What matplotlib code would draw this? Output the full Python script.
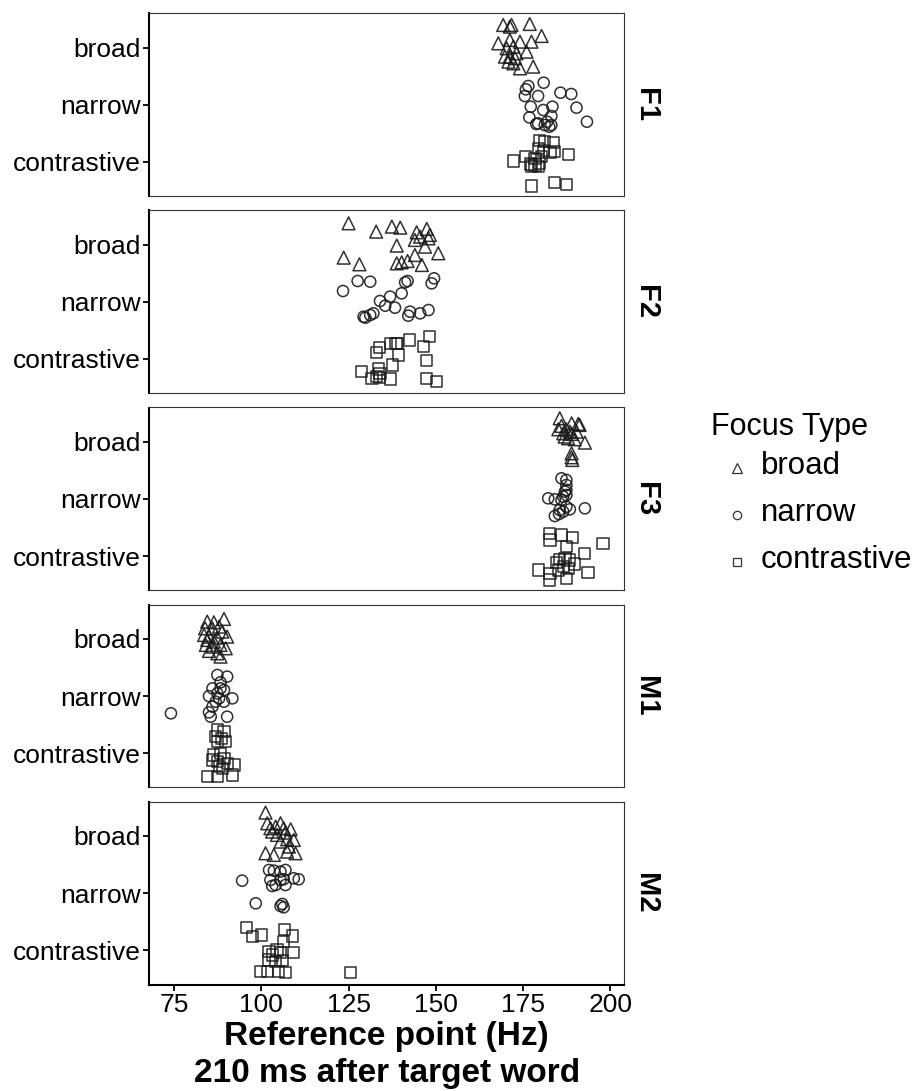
import matplotlib
matplotlib.use("Agg")
import matplotlib.pyplot as plt
from matplotlib.lines import Line2D

plt.rcParams['font.family'] = ['Liberation Sans', 'DejaVu Sans']

# focus categories, top to bottom in every panel
focus_types = ["broad", "narrow", "contrastive"]
focus_pos = {"broad": 3, "narrow": 2, "contrastive": 1}
speakers = ["F1", "F2", "F3", "M1", "M2"]

# reference point (Hz) per speaker and focus type, with the vertical jitter of each point
hz_F1 = {
    "broad": [169.3, 171.7, 171.2, 176.9, 167.9, 171.2, 174.1, 177.4, 180.3, 170.3,
              172.2, 176.0, 169.8, 171.2, 172.7, 170.8, 172.2, 174.1, 177.9, 173.1],
    "narrow": [176.5, 180.9, 175.8, 175.5, 179.3, 185.7, 188.8, 177.2, 180.8, 183.4,
               190.3, 176.8, 183.1, 179.3, 181.2, 182.5, 183.1, 193.3, 178.8, 181.9],
    "contrastive": [179.8, 181.2, 183.6, 179.3, 180.8, 184.1, 182.7, 188.1, 172.2, 175.8,
                    178.4, 180.3, 177.0, 178.4, 179.8, 177.4, 179.3, 177.4, 184.1, 187.4],
}
jit_F1 = {
    "broad": [0.395, 0.395, 0.366, 0.413, 0.074, 0.133, 0.103, 0.103, 0.203, -0.013,
              0.016, -0.072, -0.159, -0.159, -0.188, -0.247, -0.276, -0.364, -0.334, -0.101],
    "narrow": [0.327, 0.385, 0.269, 0.152, 0.152, 0.210, 0.187, -0.035, -0.093, -0.035,
               -0.052, -0.222, -0.198, -0.327, -0.356, -0.385, -0.356, -0.298, -0.338, -0.298],
    "contrastive": [0.381, 0.352, 0.335, 0.235, 0.206, 0.177, 0.159, 0.136, 0.014, 0.089,
                    0.060, 0.089, -0.039, -0.056, -0.027, -0.074, -0.086, -0.424, -0.366, -0.395],
}

hz_F2 = {
    "broad": [125.0, 132.9, 137.4, 139.8, 144.5, 147.4, 147.9, 144.0, 138.8, 146.9,
              150.7, 123.6, 128.1, 140.2, 141.9, 144.0, 146.0, 138.8, 145.5, 148.3],
    "narrow": [123.4, 127.6, 131.2, 141.2, 141.9, 148.8, 149.5, 140.2, 136.9, 134.0,
               135.5, 138.3, 129.8, 131.2, 132.1, 142.1, 142.6, 145.5, 147.9, 129.3],
    "contrastive": [133.9, 133.1, 137.1, 138.6, 139.0, 142.4, 148.3, 146.4, 139.3, 137.7,
                    147.4, 128.8, 133.6, 131.7, 132.9, 133.9, 136.9, 147.2, 150.2, 134.0],
}
jit_F2 = {
    "broad": [0.374, 0.228, 0.316, 0.298, 0.216, 0.275, 0.111, 0.082, -0.017, -0.035,
              -0.151, -0.227, -0.344, -0.309, -0.286, -0.181, -0.356, -0.327, 0.140, 0.170],
    "narrow": [0.189, 0.364, 0.352, 0.341, 0.364, 0.323, 0.411, 0.148, 0.090, 0.014,
               -0.068, -0.103, -0.278, -0.232, -0.202, -0.243, -0.173, -0.202, -0.144, -0.261],
    "contrastive": [0.196, 0.115, 0.272, 0.272, 0.272, 0.331, 0.389, 0.214, 0.068, -0.107,
                    -0.020, -0.224, -0.177, -0.341, -0.311, -0.329, -0.352, -0.341, -0.399, -0.253],
}

hz_F3 = {
    "broad": [185.5, 188.9, 190.8, 185.1, 187.4, 191.2, 186.9, 188.9, 189.8, 192.7,
              187.9, 188.9, 188.9, 189.1, 186.0, 188.4, 186.5, 190.3],
    "narrow": [186.0, 187.4, 187.4, 187.0, 187.4, 182.2, 184.1, 186.0, 187.4, 185.5,
               188.4, 192.7, 184.1, 185.3, 186.5, 187.4, 186.5],
    "contrastive": [182.5, 186.0, 189.1, 182.7, 197.9, 187.4, 192.7, 185.5, 187.0, 188.4,
                    189.8, 184.6, 179.3, 182.7, 182.5, 187.4, 193.6, 186.5, 187.9, 185.1],
}
jit_F3 = {
    "broad": [0.411, 0.323, 0.312, 0.218, 0.218, 0.294, 0.090, 0.137, 0.043, -0.015,
              0.061, -0.202, -0.272, -0.319, 0.277, 0.177, 0.148, 0.177],
    "narrow": [0.360, 0.331, 0.243, 0.127, 0.068, 0.010, -0.008, -0.019, -0.136, -0.194,
               -0.183, -0.165, -0.300, -0.265, -0.224, 0.156, 0.039],
    "contrastive": [0.397, 0.368, 0.327, 0.280, 0.222, 0.163, 0.047, -0.058, -0.041, -0.070,
                    -0.140, -0.117, -0.245, -0.304, -0.420, -0.391, -0.292, -0.187, -0.216, -0.245],
}

hz_M1 = {
    "broad": [84.5, 86.4, 89.3, 83.9, 87.9, 88.8, 86.0, 83.6, 85.0, 87.4,
              90.2, 84.1, 86.0, 88.3, 89.8, 85.0, 87.4, 84.5, 86.4, 88.3],
    "narrow": [87.4, 90.2, 88.3, 86.0, 89.3, 85.0, 87.9, 91.7, 86.9, 89.3,
               86.0, 85.0, 90.2, 74.1, 85.5, 87.4, 88.3],
    "contrastive": [87.4, 89.3, 86.9, 88.6, 89.8, 87.4, 86.4, 88.3, 89.3, 87.4,
                    87.9, 90.2, 92.2, 84.5, 87.4, 91.7, 86.0, 88.8],
}
jit_M1 = {
    "broad": [0.302, 0.290, 0.349, 0.185, 0.214, 0.127, 0.185, 0.068, 0.039, 0.022,
              0.039, -0.107, -0.136, -0.107, -0.165, -0.212, -0.253, -0.019, -0.048, -0.311],
    "narrow": [0.368, 0.339, 0.240, 0.134, 0.105, -0.002, -0.041, -0.041, -0.099, -0.099,
               -0.187, -0.286, -0.362, -0.303, -0.362, 0.047, 0.134],
    "contrastive": [0.405, 0.376, 0.288, 0.259, 0.200, 0.200, -0.033, -0.004, -0.091, -0.150,
                    -0.237, -0.179, -0.208, -0.413, -0.413, -0.383, -0.121, -0.267],
}

hz_M2 = {
    "broad": [101.2, 101.7, 105.5, 108.4, 103.1, 104.5, 106.9, 105.5, 107.4, 109.3,
              107.9, 101.2, 103.6, 107.4, 109.8, 102.6, 106.4, 104.1],
    "narrow": [102.2, 103.6, 105.5, 106.9, 94.5, 102.6, 104.1, 106.4, 106.9, 109.3,
               110.7, 103.1, 105.5, 98.4, 105.5, 106.4, 106.0],
    "contrastive": [95.7, 97.4, 100.1, 106.7, 109.0, 106.4, 102.2, 104.5, 105.5, 109.3,
                    102.2, 104.1, 106.0, 99.8, 101.7, 105.0, 106.9, 125.5, 103.1],
}
jit_M2 = {
    "broad": [0.409, 0.222, 0.222, 0.117, 0.076, 0.018, 0.059, -0.099, -0.058, -0.070,
              -0.186, -0.303, -0.332, -0.274, -0.303, 0.135, 0.135, 0.164],
    "narrow": [0.405, 0.393, 0.376, 0.405, 0.218, 0.230, 0.142, 0.242, 0.142, 0.259,
               0.242, 0.125, 0.230, -0.179, -0.225, -0.249, -0.190],
    "contrastive": [0.401, 0.237, 0.267, 0.366, 0.249, 0.150, -0.025, 0.004, -0.043, -0.043,
                    -0.171, -0.200, -0.183, -0.376, -0.376, -0.376, -0.393, -0.393, -0.084],
}

hz_all = {"F1": hz_F1, "F2": hz_F2, "F3": hz_F3, "M1": hz_M1, "M2": hz_M2}
jit_all = {"F1": jit_F1, "F2": jit_F2, "F3": jit_F3, "M1": jit_M1, "M2": jit_M2}

x_ticks = [75, 100, 125, 150, 175, 200]

markers = {"broad": "^", "narrow": "o", "contrastive": "s"}
msize = {"broad": 9.2, "narrow": 8.0, "contrastive": 8.0}
leg_size = {"broad": 7.0, "narrow": 6.0, "contrastive": 5.5}
ink = "#1a1a1a"

W, H = 922, 1091
fig = plt.figure(figsize=(W / 100, H / 100), dpi=100)

left, right = 149.3, 624.3
top0, ph, gap = 13.3, 182.8, 14.3

axes = []
for i, spk in enumerate(speakers):
    ytop = top0 + i * (ph + gap)
    ax = fig.add_axes([left / W, 1 - (ytop + ph) / H, (right - left) / W, ph / H])
    axes.append(ax)
    for ft in focus_types:
        xs = hz_all[spk][ft]
        ys = [focus_pos[ft] + j for j in jit_all[spk][ft]]
        ax.scatter(xs, ys, marker=markers[ft], s=msize[ft] ** 2,
                   facecolors="none", edgecolors=ink, linewidths=1.1, alpha=0.9)
    ax.set_xlim(67.9, 204.0)
    ax.set_ylim(0.4, 3.6)
    ax.set_yticks([focus_pos[f] for f in focus_types])
    ax.set_yticklabels(focus_types, fontsize=19)
    ax.set_xticks(x_ticks)
    for side in ["top", "right", "bottom"]:
        ax.spines[side].set_linewidth(0.8)
        ax.spines[side].set_color("#333333")
    ax.spines["left"].set_linewidth(1.5)
    ax.spines["left"].set_color("black")
    ax.tick_params(axis="y", length=4, width=1.3, pad=2, colors="black")
    if i < len(speakers) - 1:
        ax.tick_params(axis="x", bottom=False, labelbottom=False)
    else:
        ax.spines["bottom"].set_linewidth(1.5)
        ax.spines["bottom"].set_color("black")
        ax.tick_params(axis="x", length=4, width=1.3, pad=2, labelsize=19, colors="black")
    # facet strip label on the right
    ax.text(1.0 + 22 / (right - left), 0.5, spk, transform=ax.transAxes,
            rotation=-90, ha="center", va="center", fontsize=21, fontweight="bold")

axes[-1].set_xlabel("Reference point (Hz)\n210 ms after target word",
                    fontsize=24, fontweight="bold", linespacing=1.25, labelpad=3)

# legend drawn by hand to the right of the panels
fig.text(711 / W, 1 - 427 / H, "Focus Type", fontsize=22, ha="left", va="center")
leg_rows = [468, 515, 562]
for ft, ry in zip(focus_types, leg_rows):
    fig.add_artist(Line2D([737 / W], [1 - ry / H], marker=markers[ft], markersize=leg_size[ft],
                          markerfacecolor="none", markeredgecolor="#333333",
                          markeredgewidth=0.9, linestyle="none", transform=fig.transFigure))
    fig.text(761 / W, 1 - (ry - 2) / H, ft, fontsize=22.5, ha="left", va="center")

fig.savefig("out.png", dpi=100)
